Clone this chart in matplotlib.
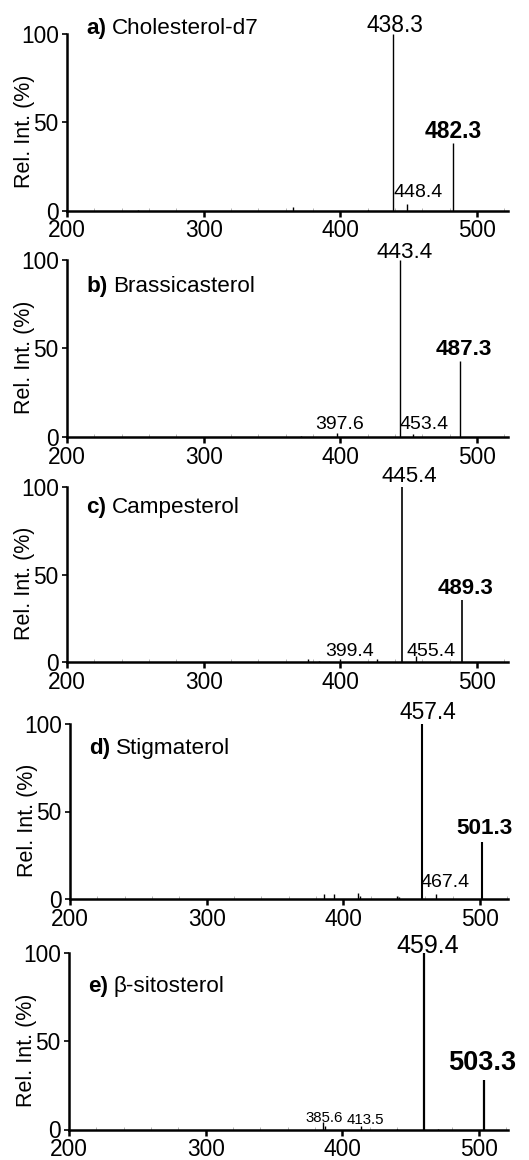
import matplotlib
matplotlib.use("Agg")
import matplotlib.pyplot as plt
from matplotlib.ticker import MultipleLocator

plt.rcParams['font.family'] = ['Liberation Sans', 'DejaVu Sans']

# ---------------- data ----------------
letters = ["a)", "b)", "c)", "d)", "e)"]
compounds = ["Cholesterol-d7", "Brassicasterol", "Campesterol", "Stigmaterol", "\u03b2-sitosterol"]

mz_a = [252.0, 365.0, 420.0, 438.3, 448.4, 482.3]
int_a = [0.5, 2.0, 0.5, 100.0, 3.5, 38.0]

mz_b = [371.0, 397.6, 443.4, 453.4, 487.3]
int_b = [0.8, 2.0, 100.0, 1.5, 43.0]

mz_c = [376.0, 384.0, 399.4, 427.0, 445.4, 455.4, 489.3]
int_c = [1.5, 0.8, 2.0, 2.0, 100.0, 3.5, 35.5]

mz_d = [385.7, 393.0, 410.6, 412.0, 439.0, 441.0, 457.4, 467.4, 501.3]
int_d = [3.0, 3.0, 3.5, 1.5, 2.0, 1.0, 100.0, 3.0, 32.6]

mz_e = [385.6, 387.0, 413.5, 440.0, 459.4, 470.0, 503.3]
int_e = [4.5, 2.0, 2.0, 0.5, 100.0, 0.5, 28.0]

mz_all = [mz_a, mz_b, mz_c, mz_d, mz_e]
int_all = [int_a, int_b, int_c, int_d, int_e]

x_ticks = [200, 300, 400, 500]
y_ticks = [0, 50, 100]

# ---------------- layout ----------------
W, H = 529, 1160
# (left px, right px, y of zero px, y of 100 px)
panel_px = [(67, 508, 210.5, 34), (67, 508, 437, 260), (67, 508, 662, 487),
            (70, 508, 899, 724), (69, 508, 1129.5, 953)]

# peak labels: (text, x, y, ha, size, bold)
labels = [
    [("438.3", 440.0, 101.0, "center", 16.4, False),
     ("482.3", 482.4, 41.2, "center", 16.4, True),
     ("448.4", 438.7, 7.8, "left", 14, False)],
    [("443.4", 447.3, 101.0, "center", 16.2, False),
     ("487.3", 490.4, 46.3, "center", 16.2, True),
     ("397.6", 399.7, 4.5, "center", 14, False),
     ("453.4", 442.9, 4.5, "left", 14, False)],
    [("445.4", 450.4, 102.7, "center", 16, False),
     ("489.3", 491.2, 38.9, "center", 16, True),
     ("399.4", 406.5, 3.6, "center", 14, False),
     ("455.4", 448.0, 3.6, "left", 14, False)],
    [("457.4", 462.1, 102.7, "center", 16.4, False),
     ("501.3", 502.9, 37.0, "center", 16.2, True),
     ("467.4", 456.5, 7.0, "left", 14, False)],
    [("459.4", 462.4, 99.8, "center", 18, False),
     ("503.3", 502.6, 33.7, "center", 19.5, True),
     ("385.6", 386.8, 4.4, "center", 10.8, False),
     ("413.5", 416.7, 3.1, "center", 10.8, False)],
]
title_y = [103, 85, 88, 86, 81]
main_lw = [1.0, 1.0, 1.2, 1.5, 1.6]

fig = plt.figure(figsize=(W / 100, H / 100), dpi=100)

for i in range(5):
    l, r, y0, y100 = panel_px[i]
    ax = fig.add_axes([l / W, (H - y0) / H, (r - l) / W, (y0 - y100) / H])
    px_per_unit = (508 - 67) / 322.6
    xmax = 200 + (r - l) / px_per_unit
    ax.set_xlim(200, xmax)
    ax.set_ylim(0, 100)

    for m, v in zip(mz_all[i], int_all[i]):
        lw = main_lw[i] if v >= 20 else 1.0
        ax.vlines(m, 0, v, color="black", lw=lw)

    for s in ["top", "right"]:
        ax.spines[s].set_visible(False)
    for s in ["left", "bottom"]:
        ax.spines[s].set_linewidth(1.8)

    ax.set_xticks(x_ticks)
    ax.set_yticks(y_ticks)
    ax.xaxis.set_minor_locator(MultipleLocator(20))
    ax.tick_params(axis="x", which="major", direction="out", length=4.5, width=1.8,
                   labelsize=16.4, pad=1.8)
    ax.tick_params(axis="x", which="minor", direction="in", length=2, width=0.6,
                   color="#aaaaaa")
    ax.tick_params(axis="y", which="major", direction="out", length=3.5, width=1.2,
                   labelsize=16.4, pad=2.5)
    ax.set_ylabel("Rel. Int. (%)", fontsize=15.5)
    ax.yaxis.set_label_coords(-0.073, 0.45)

    t = ax.text(214, title_y[i], letters[i], fontsize=16.2, fontweight="bold",
                ha="left", va="center")
    ax.annotate(compounds[i], xy=(1, 0.5), xycoords=t, xytext=(4, 0),
                textcoords="offset points", fontsize=16.2, ha="left", va="center")

    for (txt, x, y, ha, size, bold) in labels[i]:
        ax.text(x, y, txt, ha=ha, va="baseline", fontsize=size,
                fontweight="bold" if bold else "normal")

fig.savefig("out.png", dpi=100)
